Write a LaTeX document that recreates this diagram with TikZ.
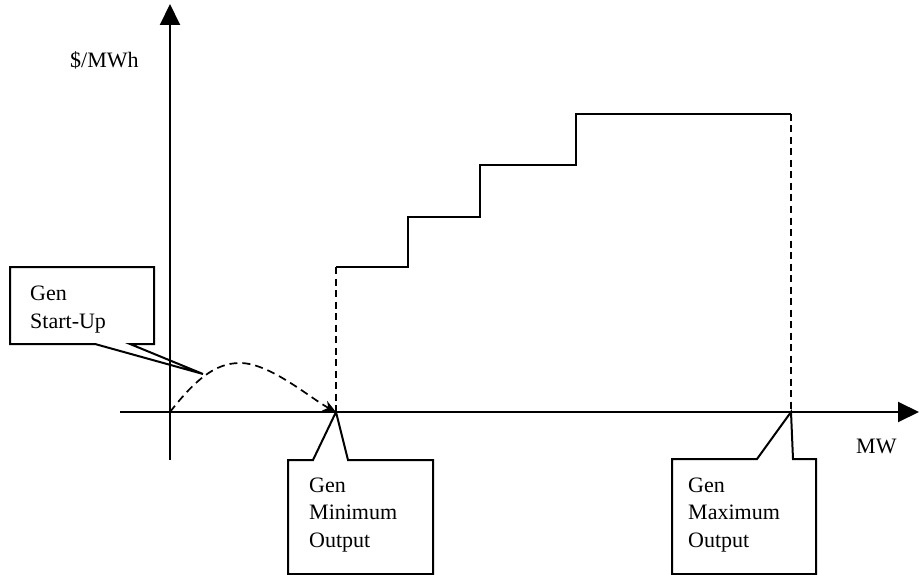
\documentclass[tikz,border=0pt]{standalone}
\usepackage{fontspec}
\setmainfont{Liberation Serif}
\usetikzlibrary{arrows.meta}
\tikzset{
  axisline/.style={line width=2pt,-{Triangle[length=21pt,width=20pt]}},
  stepline/.style={line width=2.8pt,line join=miter},
  guide/.style={line width=1.7pt,dash pattern=on 7pt off 4.5pt},
  startup/.style={line width=1.7pt,dash pattern=on 8pt off 5pt,-{Stealth[length=13pt,width=11pt]}},
  callout/.style={line width=2pt,line join=miter},
  lbl/.style={inner sep=0pt,anchor=base west,align=left,font=\fontsize{22}{27.5}\selectfont}
}
\begin{document}
\begin{tikzpicture}[x=1pt,y=-1pt]
\useasboundingbox (0,0) rectangle (919,575);
% key points
\coordinate (O) at (170,412);
\coordinate (ytop) at (170,4);
\coordinate (ybot) at (170,460);
\coordinate (xleft) at (120,412);
\coordinate (xright) at (919,412);
\coordinate (minx) at (336,412);
\coordinate (maxx) at (791,412);
\coordinate (s0) at (336,267);
\coordinate (s4) at (791,114);
\coordinate (peak) at (240,363);
% callouts
\draw[callout] (10,267) -- (154,267) -- (154,344) -- (130,344) -- (203,374) -- (95,344) -- (10,344) -- cycle;
\draw[callout] (288,460) -- (313,460) -- (minx) -- (348,460) -- (433,460) -- (433,574) -- (288,574) -- cycle;
\draw[callout] (672,459) -- (757,459) -- (maxx) -- (793,459) -- (816,459) -- (816,574) -- (672,574) -- cycle;
% axes
\draw[axisline] (ybot) -- (ytop);
\draw[axisline] (xleft) -- (xright);
% guides
\draw[guide] (s0) -- (minx);
\draw[guide] (s4) -- (maxx);
% offer steps
\draw[stepline] (s0) -- (408,267) -- (408,217) -- (480,217) -- (480,165) -- (576,165) -- (576,114) -- (s4);
% start-up curve
\draw[startup] (O) .. controls (195,380) and (215,363) .. (peak) .. controls (270,363) and (310,398) .. (minx);
% labels (base anchor = last line)
\node[lbl] (ylab) at (70,68) {\$/MWh};
\node[lbl] (xlab) at (856,453) {MW};
\node[lbl] (tstart) at (30,328) {Gen\\Start-Up};
\node[lbl] (tmin) at (309,547) {Gen\\Minimum\\Output};
\node[lbl] (tmax) at (688,547) {Gen\\Maximum\\Output};
\end{tikzpicture}
\end{document}
